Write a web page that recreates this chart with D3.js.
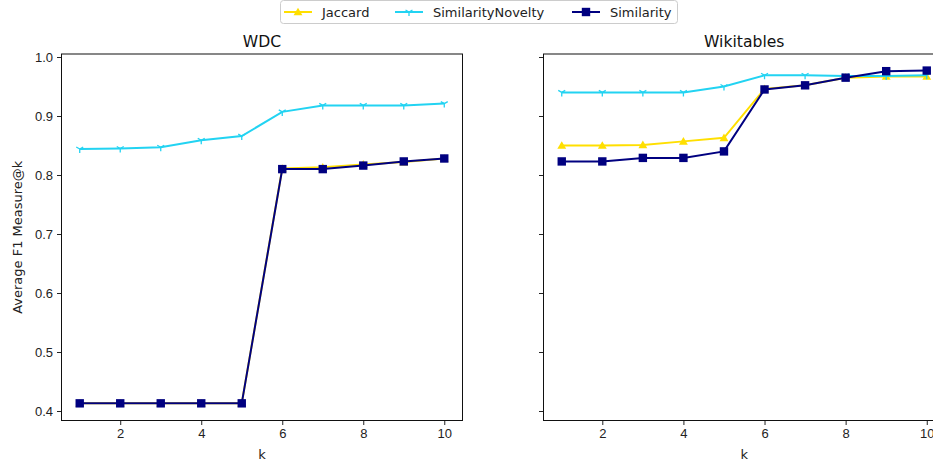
<!DOCTYPE html>
<html>
<head>
<meta charset="utf-8">
<script src="https://cdn.jsdelivr.net/npm/d3@7"></script>
<style>
  body { margin: 0; background: #fff; }
  svg { font-family: "DejaVu Sans", sans-serif; }
  .tick text { font-size: 13px; fill: #222; }
</style>
</head>
<body>
<svg id="chart" width="933" height="462"></svg>
<script>
// data
var k_values = [1, 2, 3, 4, 5, 6, 7, 8, 9, 10]
var series_names = ["Jaccard", "SimilarityNovelty", "Similarity"]
var panel_titles = ["WDC", "Wikitables"]

var wdc_jaccard = [0.413, 0.413, 0.413, 0.413, 0.413, 0.811, 0.813, 0.818, 0.822, 0.828]
var wdc_novelty = [0.844, 0.845, 0.847, 0.859, 0.866, 0.907, 0.918, 0.918, 0.918, 0.921]
var wdc_similarity = [0.413, 0.413, 0.413, 0.413, 0.413, 0.810, 0.810, 0.816, 0.823, 0.828]

var wiki_jaccard = [0.850, 0.850, 0.851, 0.857, 0.863, 0.946, 0.952, 0.965, 0.967, 0.967]
var wiki_novelty = [0.940, 0.940, 0.940, 0.940, 0.950, 0.969, 0.969, 0.968, 0.968, 0.969]
var wiki_similarity = [0.823, 0.823, 0.829, 0.829, 0.840, 0.945, 0.952, 0.965, 0.976, 0.977]

var x_ticks = [2, 4, 6, 8, 10]
var y_ticks = [0.4, 0.5, 0.6, 0.7, 0.8, 0.9, 1.0]

var colors = {"Jaccard": "#ffdf00", "SimilarityNovelty": "#22d3f2", "Similarity": "#000080"}

var panels = [
  {title: panel_titles[0], left: 61.5, right: 462.5, ylabels: true,
   data: {"Jaccard": wdc_jaccard, "SimilarityNovelty": wdc_novelty, "Similarity": wdc_similarity}},
  {title: panel_titles[1], left: 543.5, right: 945, ylabels: false,
   data: {"Jaccard": wiki_jaccard, "SimilarityNovelty": wiki_novelty, "Similarity": wiki_similarity}}
]

var svg = d3.select("#chart")
var top_y = 54, bottom_y = 420.5

var y = d3.scaleLinear().domain([0.3839, 1.0051]).range([bottom_y, top_y])

function draw_marker(g, name, cx, cy) {
  var c = colors[name]
  if (name == "Jaccard") {
    g.append("path")
      .attr("d", d3.symbol().type(d3.symbolTriangle).size(34)())
      .attr("transform", `translate(${cx},${cy + 0.8})`)
      .attr("fill", c)
  } else if (name == "Similarity") {
    g.append("rect")
      .attr("x", cx - 4.2).attr("y", cy - 4.2)
      .attr("width", 8.4).attr("height", 8.4)
      .attr("fill", c)
  } else {
    // tri_down style marker
    var r = 4
    g.append("path")
      .attr("d", `M${cx},${cy}L${cx},${cy + r}M${cx},${cy}L${cx - r * 0.87},${cy - r * 0.5}M${cx},${cy}L${cx + r * 0.87},${cy - r * 0.5}`)
      .attr("stroke", c).attr("stroke-width", 1.3).attr("fill", "none")
  }
}

panels.forEach(function(p, pi) {
  var x = d3.scaleLinear().domain([0.55, 10.45]).range([p.left, p.right])
  var g = svg.append("g")

  // x axis
  var xa = g.append("g")
    .attr("transform", `translate(0,${bottom_y})`)
    .call(d3.axisBottom(x).tickValues(x_ticks).tickSize(4.5).tickPadding(4).tickFormat(d3.format("d")))
  xa.select(".domain").remove()
  xa.selectAll(".tick line").attr("stroke", "#222")

  // y axis
  var ya = g.append("g")
    .attr("transform", `translate(${p.left},0)`)
    .call(d3.axisLeft(y).tickValues(y_ticks).tickSize(4.5).tickPadding(4).tickFormat(d3.format(".1f")))
  ya.select(".domain").remove()
  ya.selectAll(".tick line").attr("stroke", "#222")
  if (!p.ylabels) ya.selectAll(".tick text").remove()

  // lines + markers
  series_names.forEach(function(name) {
    var vals = p.data[name]
    var pts = k_values.map((k, i) => [x(k), y(vals[i])])
    g.append("path")
      .attr("d", d3.line()(pts))
      .attr("fill", "none")
      .attr("stroke", colors[name])
      .attr("stroke-width", 2)
    var mg = g.append("g")
    pts.forEach(pt => draw_marker(mg, name, pt[0], pt[1]))
  })

  // frame
  g.append("rect")
    .attr("x", p.left).attr("y", top_y)
    .attr("width", p.right - p.left).attr("height", bottom_y - top_y)
    .attr("fill", "none").attr("stroke", "#111").attr("stroke-width", 1)

  g.append("text")
    .attr("x", (p.left + p.right) / 2).attr("y", 47)
    .attr("text-anchor", "middle")
    .style("font-size", "15.6px").attr("fill", "#111")
    .text(p.title)

  g.append("text")
    .attr("x", (p.left + p.right) / 2).attr("y", 459)
    .attr("text-anchor", "middle")
    .style("font-size", "13px").attr("fill", "#222")
    .text("k")
})

// y label
svg.append("text")
  .attr("transform", `translate(22,${(top_y + bottom_y) / 2}) rotate(-90)`)
  .attr("text-anchor", "middle")
  .style("font-size", "13px").attr("fill", "#222")
  .text("Average F1 Measure@k")

// legend
var leg = svg.append("g")
leg.append("rect")
  .attr("x", 280.5).attr("y", 0.5).attr("width", 397).attr("height", 23).attr("rx", 3)
  .attr("fill", "#fff").attr("stroke", "#ccc")
var leg_x = [284, 395, 572]
series_names.forEach(function(name, i) {
  var lx = leg_x[i], ly = 12
  leg.append("line")
    .attr("x1", lx).attr("x2", lx + 28).attr("y1", ly).attr("y2", ly)
    .attr("stroke", colors[name]).attr("stroke-width", 2)
  draw_marker(leg, name, lx + 14, ly)
  leg.append("text")
    .attr("x", lx + 38).attr("y", ly + 4.5)
    .style("font-size", "13px").attr("fill", "#222")
    .text(name)
})
</script>
</body>
</html>
